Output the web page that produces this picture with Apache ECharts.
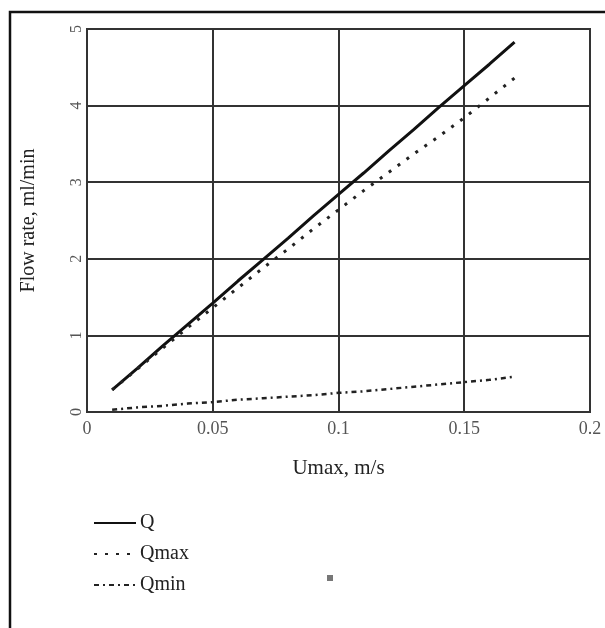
<!DOCTYPE html>
<html>
<head>
<meta charset="utf-8">
<script src="https://cdn.jsdelivr.net/npm/echarts@6/dist/echarts.min.js"></script>
<style>html,body{margin:0;padding:0;background:#fff}#c{width:605px;height:628px}</style>
</head>
<body>
<div id="c"></div>
<script>
var umax = [0.01,0.02,0.03,0.04,0.05,0.06,0.07,0.08,0.09,0.10,0.11,0.12,0.13,0.14,0.15,0.16,0.17];
var qValues = [0.29,0.57,0.86,1.14,1.42,1.71,1.99,2.27,2.56,2.84,3.12,3.41,3.69,3.98,4.26,4.54,4.83];
var qmaxValues = [0.29,0.56,0.83,1.10,1.36,1.62,1.88,2.13,2.39,2.64,2.89,3.13,3.37,3.60,3.84,4.10,4.36];
var qminValues = [0.03,0.06,0.08,0.11,0.13,0.16,0.18,0.20,0.22,0.25,0.27,0.30,0.33,0.36,0.39,0.42,0.46];
var xTickLabels = ['0','0.05','0.1','0.15','0.2'];
var yTickLabels = ['0','1','2','3','4','5'];
var seriesNames = ['Q','Qmax','Qmin'];

function pairs(ys){ return umax.map(function(u,i){ return [u, ys[i]]; }); }
var serif = '"Liberation Serif", "DejaVu Serif", serif';
var chart = echarts.init(document.getElementById('c'), null, {renderer:'canvas'});
chart.setOption({
  animation:false,
  backgroundColor:'#fff',
  graphic:[
    {type:'rect', shape:{x:10,y:12,width:620,height:640}, style:{fill:'none', stroke:'#111', lineWidth:2.5}},
    {type:'rect', shape:{x:327,y:575,width:6,height:6}, style:{fill:'#777'}}
  ],
  grid:{left:87, top:29, right:15, bottom:216, show:true, borderColor:'#333', borderWidth:2, backgroundColor:'transparent'},
  legend:{
    orient:'vertical', left:88, top:508, itemWidth:42, itemHeight:12, itemGap:11,
    itemStyle:{opacity:0},
    textStyle:{fontFamily:serif, fontSize:20, color:'#222', padding:[0,0,0,-1]},
    data:seriesNames
  },
  xAxis:{
    type:'value', min:0, max:0.2, interval:0.05,
    name:'Umax, m/s', nameLocation:'middle', nameGap:46,
    nameTextStyle:{fontFamily:serif, fontSize:21, color:'#222'},
    axisLine:{show:false}, axisTick:{show:false},
    axisLabel:{fontFamily:serif, fontSize:18, color:'#555', margin:8,
      formatter:function(v){ return xTickLabels[Math.round(v/0.05)]; }},
    splitLine:{show:true, lineStyle:{color:'#333', width:2}}
  },
  yAxis:{
    type:'value', min:0, max:5, interval:1,
    name:'Flow rate, ml/min', nameLocation:'middle', nameGap:48,
    nameTextStyle:{fontFamily:serif, fontSize:20, color:'#222'},
    axisLine:{show:false}, axisTick:{show:false},
    axisLabel:{fontFamily:serif, fontSize:16, color:'#555', rotate:90, margin:2,
      formatter:function(v){ return yTickLabels[Math.round(v)]; }},
    splitLine:{show:true, lineStyle:{color:'#333', width:2}}
  },
  series:[
    {name:seriesNames[0], type:'line', data:pairs(qValues), symbol:'none', color:'#111',
      lineStyle:{color:'#111', width:3, type:'solid'}},
    {name:seriesNames[1], type:'line', data:pairs(qmaxValues), symbol:'none', color:'#222',
      lineStyle:{color:'#222', width:3, type:[3,8]}},
    {name:seriesNames[2], type:'line', data:pairs(qminValues), symbol:'none', color:'#222',
      lineStyle:{color:'#222', width:2.5, type:[5,4,2,4]}}
  ]
});
</script>
</body>
</html>
